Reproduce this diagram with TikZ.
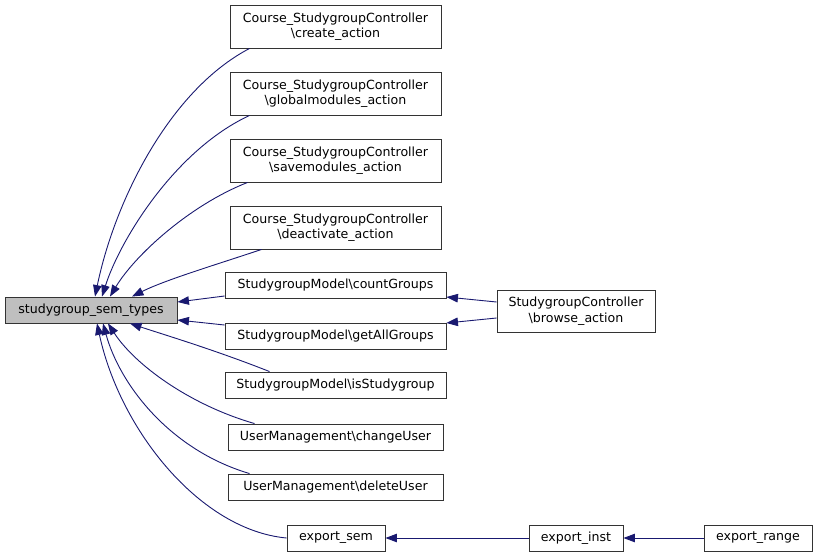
\documentclass[tikz,border=0pt]{standalone}
\usepackage{fontspec}
\setmainfont{DejaVu Sans}
\usetikzlibrary{arrows.meta}
\definecolor{edgecol}{HTML}{191970}
\definecolor{boxline}{HTML}{333333}
\definecolor{hilite}{HTML}{BFBFBF}
\begin{document}
\begin{tikzpicture}[x=1pt,y=-1pt,
  box/.style={draw=boxline,line width=0.9pt,fill=white,inner sep=0pt,align=center,font=\fontsize{12.6pt}{15.5pt}\selectfont},
  edge/.style={draw=edgecol,line width=0.9pt,-{Triangle[length=11.5pt,width=8.5pt]}}]
\useasboundingbox (0,0) rectangle (816,557);
\node[box,fill=hilite,minimum width=172pt,minimum height=26pt] (sem) at (91,310) {studygroup\_sem\_types};
\node[box,minimum width=211pt,minimum height=43pt] (create) at (335.5,26.5) {Course\_StudygroupController\\\textbackslash create\_action};
\node[box,minimum width=211pt,minimum height=43pt] (global) at (335.5,93.5) {Course\_StudygroupController\\\textbackslash globalmodules\_action};
\node[box,minimum width=211pt,minimum height=43pt] (save) at (335.5,160.5) {Course\_StudygroupController\\\textbackslash savemodules\_action};
\node[box,minimum width=211pt,minimum height=43pt] (deact) at (335.5,227.5) {Course\_StudygroupController\\\textbackslash deactivate\_action};
\node[box,minimum width=221pt,minimum height=26pt] (count) at (335.5,285) {StudygroupModel\textbackslash countGroups};
\node[box,minimum width=221pt,minimum height=26pt] (getall) at (335.5,336) {StudygroupModel\textbackslash getAllGroups};
\node[box,minimum width=221pt,minimum height=26pt] (isgroup) at (335.5,385) {StudygroupModel\textbackslash isStudygroup};
\node[box,minimum width=215pt,minimum height=26pt] (change) at (335.5,437) {UserManagement\textbackslash changeUser};
\node[box,minimum width=215pt,minimum height=26pt] (delete) at (335.5,487) {UserManagement\textbackslash deleteUser};
\node[box,minimum width=98pt,minimum height=26pt] (esem) at (336,538) {export\_sem};
\node[box,minimum width=158pt,minimum height=42pt] (browse) at (576,311) {StudygroupController\\\textbackslash browse\_action};
\node[box,minimum width=94pt,minimum height=26pt] (einst) at (576,538) {export\_inst};
\node[box,minimum width=108pt,minimum height=26pt] (erange) at (758,538) {export\_range};
% edges into sem (top)
\draw[edge] ([xshift=20pt]create.south west) .. controls (170,90) and (115,200) .. ([xshift=4pt]sem.north);
\draw[edge] ([xshift=20pt]global.south west) .. controls (175,150) and (120,240) .. ([xshift=11pt]sem.north);
\draw[edge] ([xshift=18pt]save.south west) .. controls (190,205) and (135,255) .. ([xshift=19pt]sem.north);
\draw[edge] ([xshift=32pt]deact.south west) .. controls (215,265) and (165,280) .. ([xshift=41pt]sem.north);
\draw[edge] ([yshift=-11pt]count.west) -- ([yshift=8pt]sem.east);
\draw[edge] ([yshift=11pt]getall.west) -- ([yshift=-10pt]sem.east);
% edges into sem (bottom)
\draw[edge] ([xshift=45pt]isgroup.north west) .. controls (215,350) and (165,335) .. ([xshift=39pt]sem.south);
\draw[edge] ([xshift=27pt]change.north west) .. controls (190,405) and (135,365) .. ([xshift=17pt]sem.south);
\draw[edge] ([xshift=22pt]delete.north west) .. controls (170,450) and (120,385) .. ([xshift=12pt]sem.south);
\draw[edge] (esem.west) .. controls (200,530) and (120,430) .. ([xshift=6pt]sem.south);
% other edges
\draw[edge] ([yshift=9pt]browse.west) -- ([yshift=-12pt]count.east);
\draw[edge] ([yshift=-7pt]browse.west) -- ([yshift=13pt]getall.east);
\draw[edge] (einst) -- (esem);
\draw[edge] (erange) -- (einst);
\end{tikzpicture}
\end{document}
